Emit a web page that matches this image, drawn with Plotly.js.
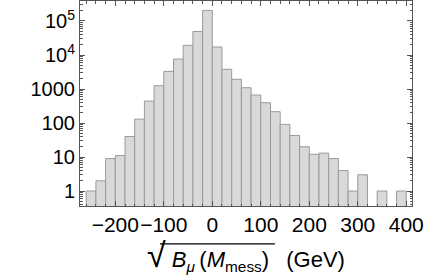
<!DOCTYPE html>
<html>
<head>
<meta charset="utf-8">
<script src="https://cdn.plot.ly/plotly-3.0.1.min.js"></script>
<style>html,body{margin:0;padding:0;background:#fff}#chart{width:424px;height:277px}</style>
</head>
<body>
<div id="chart"></div>
<script>
// Histogram bins (lower edge, GeV) and counts
var binLeft = [-260,-240,-220,-200,-180,-160,-140,-120,-100,-80,-60,-40,-20,0,20,40,60,80,100,120,140,160,180,200,220,240,260,280,300,320,340,360,380];
var counts  = [1,2,9,11,40,130,440,1250,3300,7600,19300,49000,205000,17200,3800,1930,1090,665,395,215,91,43,20,12,13,9,4,1,3,0,1,0,1];
var binWidth = 20;

var yTickVals = [1,10,100,1000,10000,100000];
var yTickText = ['1','10','100','1000','10<sup>4</sup>','10<sup>5</sup>'];
var xTickVals = [-200,-100,0,100,200,300,400];
var xTickText = ['\u2212200','\u2212100','0','100','200','300','400'];

var yMinor = [];
for (var k = -1; k <= 5; k++) for (var m = 2; m <= 9; m++) yMinor.push(m * Math.pow(10, k));

var fr = '#555';
var trace = {
  type: 'bar',
  x: binLeft,
  y: counts.map(function(c){ return c > 0 ? c : null; }),
  width: binWidth,
  offset: 0,
  marker: {color: '#d9d9d9', line: {color: '#9a9a9a', width: 1}},
  hoverinfo: 'skip'
};

var layout = {
  width: 424, height: 277,
  margin: {l: 80, r: 12, t: 1, b: 71},
  paper_bgcolor: '#fff', plot_bgcolor: '#fff',
  showlegend: false,
  bargap: 0,
  font: {family: '"Liberation Sans", Arial, sans-serif', size: 20, color: '#000'},
  xaxis: {
    range: [-272.8, 411.8],
    tickmode: 'array', tickvals: xTickVals, ticktext: xTickText,
    tickangle: 0,
    ticks: 'inside', ticklen: 5, tickwidth: 1, tickcolor: fr,
    minor: {ticks: 'inside', ticklen: 2.5, tickcolor: fr, dtick: 20, tick0: 0, showgrid: false},
    showline: true, linecolor: fr, linewidth: 1, mirror: 'allticks',
    showgrid: false, zeroline: false,
    tickfont: {size: 21},
    title: {text: '<span style="font-size:34px">\u221A</span> <i>B</i><sub><i>\u03BC</i></sub>\u2009(<i>M</i><sub>mess</sub>)\u2002 (GeV)', font: {size: 22}, standoff: 12}
  },
  yaxis: {
    type: 'log',
    range: [-0.441, 5.588],
    tickmode: 'array', tickvals: yTickVals, ticktext: yTickText,
    ticks: 'inside', ticklen: 5, tickwidth: 1, tickcolor: fr,
    minor: {ticks: 'inside', ticklen: 2.5, tickcolor: fr, tickmode: 'array', tickvals: yMinor, showgrid: false},
    showline: true, linecolor: fr, linewidth: 1, mirror: 'allticks',
    showgrid: false, zeroline: false,
    tickfont: {size: 20}
  },
  shapes: [{
    type: 'line', xref: 'paper', yref: 'paper',
    x0: 0.241, x1: 0.587, y0: -0.185, y1: -0.185,
    line: {color: '#000', width: 1.2}
  }]
};

Plotly.newPlot('chart', [trace], layout, {staticPlot: true, displayModeBar: false});
</script>
</body>
</html>
